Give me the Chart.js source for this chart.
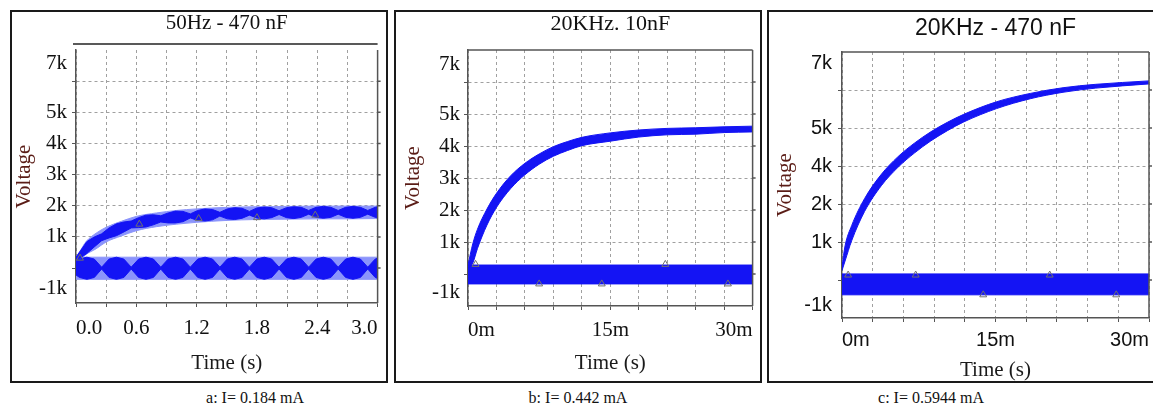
<!DOCTYPE html>
<html>
<head>
<meta charset="utf-8">
<script src="https://cdn.jsdelivr.net/npm/chart.js@4.4.0/dist/chart.umd.min.js"></script>
<style>
  body { margin: 0; width: 1153px; height: 409px; background: #fff; overflow: hidden; position: relative; }
  .panel { position: absolute; box-sizing: border-box; border: 2px solid #1a1a1a; top: 10px; height: 373px; }
  .panel canvas { display: block; }
  .cap { position: absolute; top: 389px; line-height: 18px; font: 16px "Liberation Serif", serif; color: #111;
         transform: translateX(-50%); white-space: nowrap; }
</style>
</head>
<body>
<div class="panel" style="left:10px;width:378px"><canvas id="cA" width="374" height="369"></canvas></div>
<div class="panel" style="left:394px;width:368px"><canvas id="cB" width="364" height="369"></canvas></div>
<div class="panel" style="left:767px;width:390px"><canvas id="cC" width="386" height="369"></canvas></div>
<div class="cap" style="left:255px">a: I= 0.184 mA</div>
<div class="cap" style="left:578px">b: I= 0.442 mA</div>
<div class="cap" style="left:931px">c: I= 0.5944 mA</div>

<script>
// ---- panel a : 50Hz - 470 nF (time in s, voltage in kV)
const tEnvA = [0, 0.05, 0.1, 0.2, 0.3, 0.45, 0.6, 0.8, 1.0, 1.2, 1.5, 1.8, 2.1, 2.4, 2.7, 3.0];
const envTopA = [0.35, 0.6, 0.85, 1.12, 1.31, 1.5, 1.66, 1.77, 1.85, 1.9, 1.95, 1.97, 1.98, 1.99, 1.99, 1.99];
const envBotA = [0.25, 0.3, 0.44, 0.62, 0.84, 1.03, 1.2, 1.33, 1.41, 1.47, 1.53, 1.56, 1.57, 1.58, 1.58, 1.59];
const tLensA = [0, 0.035, 0.108, 0.182, 0.255, 0.329, 0.402, 0.476, 0.549, 0.623, 0.696, 0.77, 0.843, 0.917,
  0.99, 1.064, 1.137, 1.211, 1.284, 1.358, 1.431, 1.505, 1.578, 1.652, 1.725, 1.799, 1.873, 1.946, 2.02,
  2.094, 2.167, 2.241, 2.314, 2.388, 2.461, 2.535, 2.608, 2.682, 2.755, 2.829, 2.902, 2.976, 3.0];
const chargeTopA = [0.35, 0.51, 0.85, 1.0, 1.10, 1.29, 1.42, 1.48, 1.51, 1.62, 1.70, 1.71, 1.68, 1.77, 1.83,
  1.82, 1.74, 1.85, 1.90, 1.88, 1.79, 1.90, 1.94, 1.92, 1.82, 1.93, 1.96, 1.94, 1.84, 1.94, 1.97, 1.95,
  1.85, 1.95, 1.98, 1.95, 1.85, 1.95, 1.98, 1.95, 1.85, 1.95, 1.97];
const chargeBotA = [0.25, 0.31, 0.47, 0.68, 0.88, 0.97, 1.04, 1.16, 1.29, 1.30, 1.32, 1.39, 1.48, 1.45, 1.45,
  1.49, 1.61, 1.53, 1.51, 1.55, 1.67, 1.58, 1.56, 1.60, 1.70, 1.61, 1.58, 1.62, 1.72, 1.62, 1.59, 1.63,
  1.73, 1.63, 1.60, 1.63, 1.73, 1.63, 1.60, 1.63, 1.73, 1.63, 1.61];
const srcTopA = [0.22, 0.29, 0.35, 0.29, 0.03, 0.29, 0.35, 0.29, 0.03, 0.29, 0.35, 0.29, 0.03, 0.29, 0.35,
  0.29, 0.03, 0.29, 0.35, 0.29, 0.03, 0.29, 0.35, 0.29, 0.03, 0.29, 0.35, 0.29, 0.03, 0.29, 0.35, 0.29,
  0.03, 0.29, 0.35, 0.29, 0.03, 0.29, 0.35, 0.29, 0.03, 0.29, 0.32];
const srcBotA = [-0.22, -0.30, -0.36, -0.30, -0.03, -0.30, -0.36, -0.30, -0.03, -0.30, -0.36, -0.30, -0.03,
  -0.30, -0.36, -0.30, -0.03, -0.30, -0.36, -0.30, -0.03, -0.30, -0.36, -0.30, -0.03, -0.30, -0.36, -0.30,
  -0.03, -0.30, -0.36, -0.30, -0.03, -0.30, -0.36, -0.30, -0.03, -0.30, -0.36, -0.30, -0.03, -0.30, -0.33];
const tSrcEnvA = [0, 3.0];
const srcEnvTopA = [0.35, 0.35];
const srcEnvBotA = [-0.36, -0.36];
const markXA = [0.04, 0.63, 1.22, 1.80, 2.38];
const markYA = [0.32, 1.41, 1.59, 1.62, 1.70];
const xGridA = [0, 0.3, 0.6, 0.9, 1.2, 1.5, 1.8, 2.1, 2.4, 2.7, 3.0];
const xLabelPosA = [0, 0.6, 1.2, 1.8, 2.4, 3.0];
const xLabelTextA = ['0.0', '0.6', '1.2', '1.8', '2.4', '3.0'];
const yGridA = [0, 1, 2, 3, 4, 5, 6];
const yLabelPosA = [6.58, 5, 4, 3, 2, 1, -0.64];
const yLabelTextA = ['7k', '5k', '4k', '3k', '2k', '1k', '-1k'];

// ---- panel b : 20KHz. 10nF (time in ms)
const tB = [0, 0.5, 1, 2, 3, 4.5, 6, 7.5, 9, 10.5, 12, 15, 18, 21, 24, 27, 30];
const chargeTopB = [0.28, 0.94, 1.4, 2.03, 2.52, 3.07, 3.46, 3.75, 3.98, 4.14, 4.27, 4.41, 4.50, 4.55, 4.57, 4.60, 4.62];
const chargeBotB = [0.18, 0.34, 0.8, 1.53, 2.08, 2.67, 3.10, 3.43, 3.68, 3.86, 4.01, 4.15, 4.28, 4.35, 4.37, 4.42, 4.44];
const tSrcB = [0, 30];
const srcTopB = [0.28, 0.28];
const srcBotB = [-0.31, -0.31];
const markXB = [0.8, 7.5, 14.1, 20.8, 27.4];
const markYB = [0.3, -0.31, -0.31, 0.3, -0.31];
const xGridB = [0, 3, 6, 9, 12, 15, 18, 21, 24, 27, 30];
const xLabelPosB = [0, 15, 30];
const xLabelTextB = ['0m', '15m', '30m'];
const yGridB = [0, 1, 2, 3, 4, 5, 6];
const yLabelPosB = [6.56, 5, 4, 3, 2, 1, -0.59];
const yLabelTextB = ['7k', '5k', '4k', '3k', '2k', '1k', '-1k'];

// ---- panel c : 20KHz - 470 nF (time in ms)
const tC = [0, 0.3, 0.94, 2.2, 3.84, 5.45, 7.07, 8.68, 10.3, 11.9, 15.1, 18.4, 21.6, 24.8, 30];
const chargeTopC = [1.35, 1.90, 2.43, 3.14, 3.78, 4.24, 4.60, 4.90, 5.15, 5.36, 5.69, 5.91, 6.06, 6.15, 6.24];
const chargeBotC = [1.25, 1.50, 2.03, 2.80, 3.48, 3.96, 4.34, 4.66, 4.93, 5.16, 5.51, 5.77, 5.94, 6.05, 6.16];
const tSrcC = [0, 30];
const srcTopC = [1.16, 1.16];
const srcBotC = [0.61, 0.61];
const markXC = [0.6, 7.2, 13.8, 20.3, 26.8];
const markYC = [1.13, 1.13, 0.61, 1.13, 0.61];
const xGridC = [0, 3, 6, 9, 12, 15, 18, 21, 24, 27, 30];
const xLabelPosC = [0, 15, 30];
const xLabelTextC = ['0m', '15m', '30m'];
const yGridC = [1, 2, 3, 4, 5, 6];
const yLabelPosC = [6.71, 5, 4, 3, 2, 0.34];
const yLabelTextC = ['7k', '5k', '4k', '2k', '1k', '-1k'];

const SERIF = 'Liberation Serif';
const SANS = 'Liberation Sans';
const DARK = '#1414f4';
const LIGHT = '#8b94fb';
const GRID = '#a0a0a0';
const AXIS = '#555';
const NONE = 'rgba(0,0,0,0)';

function pts(xs, ys) { return xs.map((x, i) => ({ x: x, y: ys[i] })); }

// two lines with the area between them filled; higher order = drawn further below
function band(xs, top, bot, color, order, smooth) {
    const common = { borderColor: color, backgroundColor: color, borderWidth: 1, pointRadius: 0, order: order,
                     cubicInterpolationMode: smooth ? 'monotone' : 'default' };
    return [
        Object.assign({ data: pts(xs, top), fill: false }, common),
        Object.assign({ data: pts(xs, bot), fill: '-1' }, common)
    ];
}

function marks(xs, ys) {
    return { data: pts(xs, ys), showLine: false, pointStyle: 'triangle', pointRadius: 4, order: 0,
             borderColor: '#6f6f6f', backgroundColor: NONE, borderWidth: 1 };
}

// right edge, top edge and little ticks on the right side
const frameLines = {
    id: 'frameLines',
    afterDraw(chart, args, opts) {
        const { ctx, chartArea: a } = chart;
        const y = chart.scales.y;
        ctx.save();
        ctx.strokeStyle = AXIS;
        ctx.lineWidth = 1.5;
        ctx.beginPath();
        ctx.moveTo(a.right, a.top); ctx.lineTo(a.right, a.bottom);
        if (opts.box) { ctx.moveTo(a.left, a.top); ctx.lineTo(a.right, a.top); }
        opts.grid.forEach(v => {
            const py = y.getPixelForValue(v);
            ctx.moveTo(a.right, py); ctx.lineTo(a.right + 3, py);
        });
        ctx.stroke();
        if (!opts.box) {
            ctx.strokeStyle = '#222';
            ctx.beginPath();
            ctx.moveTo(a.left - 3, a.top - 6); ctx.lineTo(a.right, a.top - 6);
            ctx.stroke();
        }
        ctx.restore();
    }
};

function makeChart(p) {
    const yTicks = Array.from(new Set(p.yGrid.concat(p.yLabelPos))).sort((a, b) => a - b);
    const onGrid = (list, c) => c.tick && list.includes(c.tick.value);
    new Chart(document.getElementById(p.id), {
        type: 'line',
        data: { datasets: p.datasets },
        plugins: [frameLines],
        options: {
            responsive: false,
            animation: false,
            events: [],
            layout: { padding: { left: 0, right: p.padRight, top: 0, bottom: 0 } },
            plugins: {
                legend: { display: false },
                tooltip: { enabled: false },
                title: { display: true, text: p.title, fullSize: false, color: '#111',
                         font: { family: p.titleFamily, size: p.titleSize, weight: 'normal', lineHeight: 1 },
                         padding: p.titlePad },
                frameLines: { box: p.box, grid: p.yGrid }
            },
            scales: {
                x: {
                    type: 'linear', min: p.xMin, max: p.xMax,
                    afterBuildTicks: s => { s.ticks = p.xGrid.map(v => ({ value: v })); },
                    afterFit: s => { s.height = p.xHeight; },
                    ticks: { autoSkip: false, maxRotation: 0, align: 'inner', padding: p.xPad, color: '#111',
                             font: { family: p.tickFamily, size: p.tickSize },
                             callback: v => { const i = p.xLabelPos.indexOf(v); return i < 0 ? '' : p.xLabelText[i]; } },
                    grid: { color: GRID, tickColor: AXIS, tickLength: 4, lineWidth: 1 },
                    border: { color: AXIS, width: 1.5, dash: [3, 3] },
                    title: { display: true, text: 'Time (s)', color: '#1a1a1a',
                             font: { family: SERIF, size: 21, lineHeight: 1 }, padding: { top: 0, bottom: p.xTitlePad } }
                },
                y: {
                    type: 'linear', min: p.yMin, max: p.yMax,
                    afterBuildTicks: s => { s.ticks = yTicks.map(v => ({ value: v })); },
                    afterFit: s => { s.width = p.yWidth; },
                    ticks: { autoSkip: false, padding: p.yPad, color: '#111',
                             font: { family: p.tickFamily, size: p.tickSize },
                             callback: v => { const i = p.yLabelPos.indexOf(v); return i < 0 ? '' : p.yLabelText[i]; } },
                    grid: { color: c => onGrid(p.yGrid, c) ? GRID : NONE,
                            tickColor: c => onGrid(p.yGrid, c) ? AXIS : NONE, tickLength: 4, lineWidth: 1 },
                    border: { color: AXIS, width: 1.5, dash: [3, 3] },
                    title: { display: true, text: 'Voltage', color: '#5a1c16',
                             font: { family: SERIF, size: 21, lineHeight: 1 }, padding: { top: p.yTitlePad, bottom: 0 } }
                }
            }
        }
    });
}

makeChart({
    id: 'cA', title: '50Hz - 470 nF', titleFamily: SERIF, titleSize: 21, titlePad: { top: 0.5, bottom: 16.5 },
    box: false, padRight: 4, yWidth: 64, xHeight: 78,
    xMin: 0, xMax: 3, xGrid: xGridA, xLabelPos: xLabelPosA, xLabelText: xLabelTextA, xPad: 8.4, xTitlePad: 7.5,
    yMin: -1.12, yMax: 7, yGrid: yGridA, yLabelPos: yLabelPosA, yLabelText: yLabelTextA, yPad: 5, yTitlePad: 2,
    tickFamily: SERIF, tickSize: 21,
    datasets: [
        ...band(tEnvA, envTopA, envBotA, LIGHT, 3, true),
        ...band(tLensA, chargeTopA, chargeBotA, DARK, 2),
        ...band(tSrcEnvA, srcEnvTopA, srcEnvBotA, LIGHT, 3),
        ...band(tLensA, srcTopA, srcBotA, DARK, 2),
        marks(markXA, markYA)
    ]
});

makeChart({
    id: 'cB', title: '20KHz. 10nF', titleFamily: SERIF, titleSize: 22, titlePad: { top: 1, bottom: 15 },
    box: true, padRight: 3, yWidth: 72, xHeight: 75,
    xMin: 0, xMax: 30, xGrid: xGridB, xLabelPos: xLabelPosB, xLabelText: xLabelTextB, xPad: 7.4, xTitlePad: 7.5,
    yMin: -1, yMax: 7, yGrid: yGridB, yLabelPos: yLabelPosB, yLabelText: yLabelTextB, yPad: 4, yTitlePad: 7,
    tickFamily: SERIF, tickSize: 21,
    datasets: [
        ...band(tB, chargeTopB, chargeBotB, DARK, 2, true),
        ...band(tSrcB, srcTopB, srcBotB, DARK, 2),
        marks(markXB, markYB)
    ]
});

makeChart({
    id: 'cC', title: '20KHz - 470 nF', titleFamily: SANS, titleSize: 23, titlePad: { top: 5.5, bottom: 11.5 },
    box: true, padRight: 3, yWidth: 73, xHeight: 63,
    xMin: 0, xMax: 30, xGrid: xGridC, xLabelPos: xLabelPosC, xLabelText: xLabelTextC, xPad: 6, xTitlePad: 0.5,
    yMin: 0, yMax: 7, yGrid: yGridC, yLabelPos: yLabelPosC, yLabelText: yLabelTextC, yPad: 6, yTitlePad: 6,
    tickFamily: SANS, tickSize: 20,
    datasets: [
        ...band(tC, chargeTopC, chargeBotC, DARK, 2, true),
        ...band(tSrcC, srcTopC, srcBotC, DARK, 2),
        marks(markXC, markYC)
    ]
});
</script>
</body>
</html>
